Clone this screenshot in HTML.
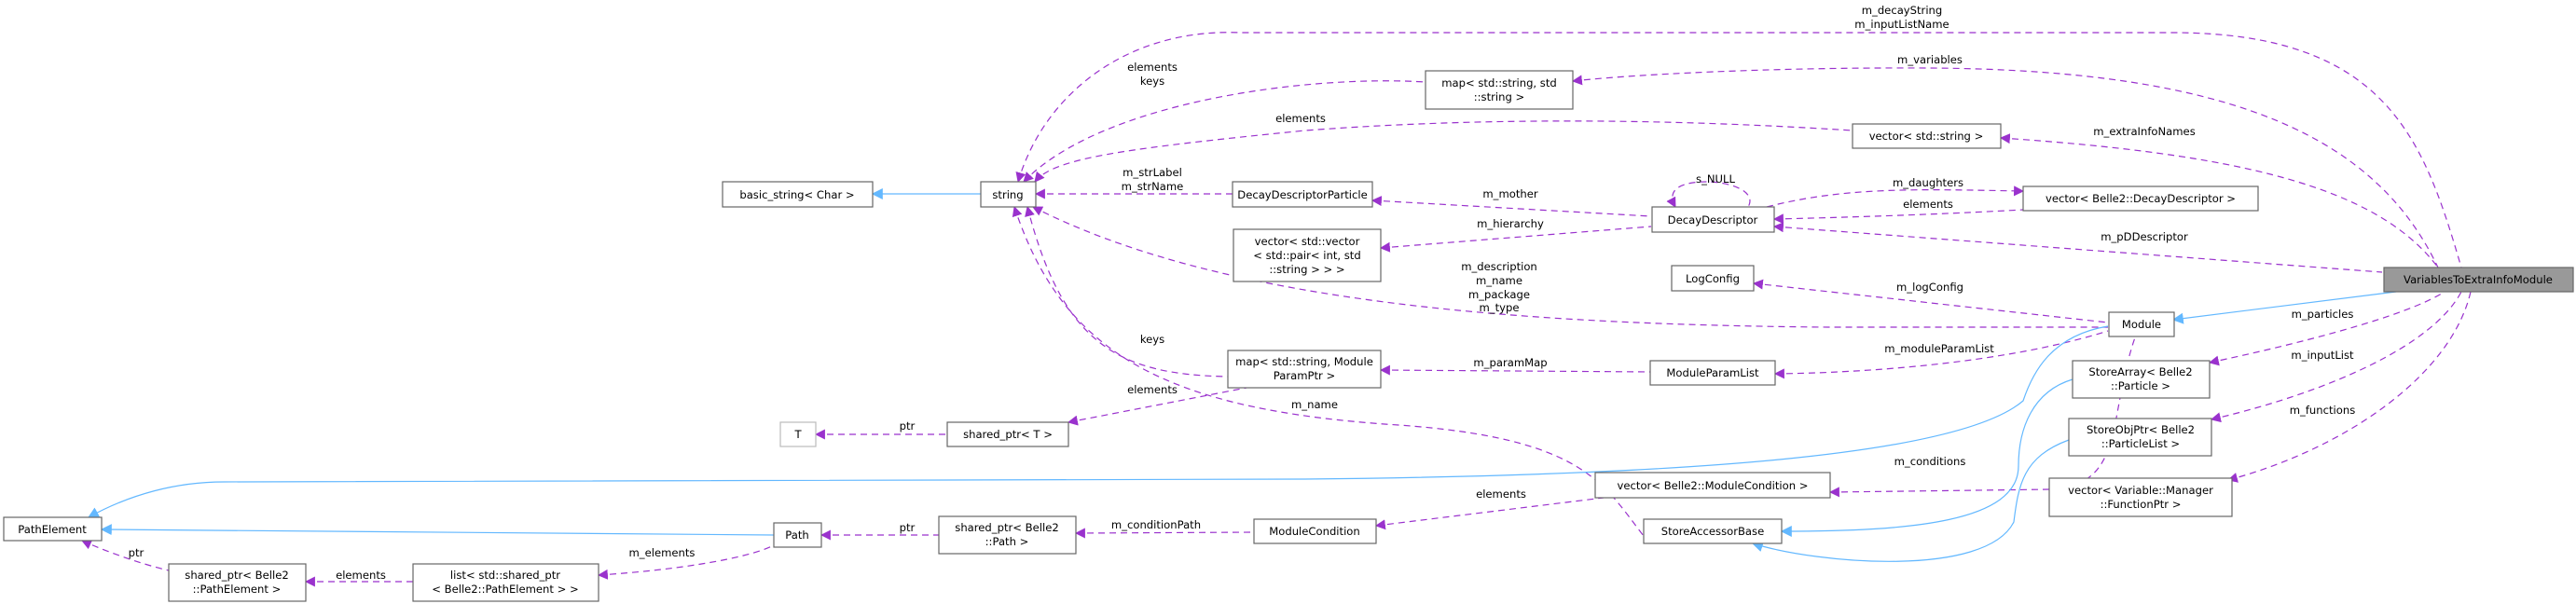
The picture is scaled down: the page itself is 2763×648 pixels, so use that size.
<!DOCTYPE html>
<html><head><meta charset="utf-8"><style>
html,body{margin:0;padding:0;background:#fff;}
svg{display:block;}
text{font-family:"DejaVu Sans","Liberation Sans",sans-serif;font-size:11.6px;fill:#000;}
.n{fill:#fff;stroke:#666;stroke-width:1.2;}
.p{fill:none;stroke:#9a32cd;stroke-width:1.2;stroke-dasharray:7,5;}
.b{fill:none;stroke:#63b8ff;stroke-width:1.2;}
</style></head><body>
<svg width="2763" height="648" viewBox="0 0 2763 648" xmlns="http://www.w3.org/2000/svg">
<defs>
<marker id="ap" viewBox="0 0 10 10" refX="9" refY="5" markerWidth="11" markerHeight="11" orient="auto-start-reverse" markerUnits="userSpaceOnUse"><path d="M0,0 L10,5 L0,10 z" fill="#9a32cd"/></marker>
<marker id="ab" viewBox="0 0 10 10" refX="9" refY="5" markerWidth="12" markerHeight="12" orient="auto-start-reverse" markerUnits="userSpaceOnUse"><path d="M0,0 L10,5 L0,10 z" fill="#63b8ff"/></marker>
</defs>

<g>
<path class="p" marker-start="url(#ap)" d="M1092,195 C1120,100 1210,30 1330,35 L2330,35 C2560,35 2600,150 2640,287"/>
<path class="p" marker-start="url(#ap)" d="M1687,87 C1750,80 1900,72 2070,73 C2400,75 2550,150 2615,287"/>
<path class="p" marker-start="url(#ap)" d="M1098,195 C1180,110 1400,80 1529,88"/>
<path class="p" marker-start="url(#ap)" d="M1110,195 C1130,170 1200,160 1400,140 C1600,125 1800,128 1987,140"/>
<path class="p" marker-start="url(#ap)" d="M2146,148 C2400,165 2550,200 2615,287"/>
<path class="p" marker-start="url(#ap)" d="M1111,208 L1322,208"/>
<path class="p" marker-start="url(#ap)" d="M1472,215 L1771,232"/>
<path class="p" marker-start="url(#ap)" d="M1797,222 C1785,200 1810,195 1830,195 C1855,195 1885,205 1875,222"/>
<path class="p" marker-end="url(#ap)" d="M1895,222 C1980,200 2060,203 2170,205"/>
<path class="p" marker-start="url(#ap)" d="M1903,235 C1990,233 2080,230 2170,225"/>
<path class="p" marker-start="url(#ap)" d="M1903,243 L2555,292"/>
<path class="p" marker-start="url(#ap)" d="M1481,266 L1771,243"/>
<path class="p" marker-start="url(#ap)" d="M1108,222 C1300,320 1600,348 1960,351 L2261,351"/>
<path class="p" marker-start="url(#ap)" d="M1881,304 L2261,346"/>
<path class="p" marker-start="url(#ap)" d="M1904,401 C2000,400 2150,390 2261,355"/>
<path class="p" marker-start="url(#ap)" d="M1481,397 L1770,399"/>
<path class="p" marker-start="url(#ap)" d="M1102,222 C1140,370 1200,402 1317,404"/>
<path class="p" marker-start="url(#ap)" d="M1146,453 L1337,416"/>
<path class="p" marker-start="url(#ap)" d="M875,466 L1016,466"/>
<path class="p" marker-start="url(#ap)" d="M1088,222 C1140,380 1250,440 1500,456 C1700,470 1720,520 1763,575"/>
<path class="p" marker-start="url(#ap)" d="M1963,528 L2200,525 C2280,520 2260,450 2290,362"/>
<path class="p" marker-start="url(#ap)" d="M1476,564 L1720,534"/>
<path class="p" marker-start="url(#ap)" d="M1154,572 L1345,571"/>
<path class="p" marker-start="url(#ap)" d="M881,574 L1007,574"/>
<path class="p" marker-start="url(#ap)" d="M642,617 C720,612 800,600 830,585"/>
<path class="p" marker-start="url(#ap)" d="M328,624 L443,624"/>
<path class="p" marker-start="url(#ap)" d="M88,580 C110,590 150,605 181,612"/>
<path class="p" marker-start="url(#ap)" d="M2370,389 C2460,370 2580,340 2622,313"/>
<path class="p" marker-start="url(#ap)" d="M2372,450 C2500,420 2610,370 2640,313"/>
<path class="p" marker-start="url(#ap)" d="M2390,515 C2520,480 2630,400 2650,313"/>
</g>

<g>
<path class="b" marker-start="url(#ab)" d="M936,208 L1052,208"/>
<path class="b" marker-start="url(#ab)" d="M109,568 L830,574"/>
<path class="b" marker-start="url(#ab)" d="M95,555 C140,530 190,517 240,517 L1400,514 C1800,510 2100,490 2170,430 C2180,400 2200,360 2261,350"/>
<path class="b" marker-start="url(#ab)" d="M2331,343 L2570,313"/>
<path class="b" marker-start="url(#ab)" d="M1911,570 C2050,570 2165,560 2165,500 C2165,460 2180,420 2223,407"/>
<path class="b" marker-start="url(#ab)" d="M1880,583 C1950,605 2130,620 2160,560 C2165,520 2170,490 2219,472"/>
</g>

<g text-anchor="middle">
<text x="2040" y="15">m_decayString</text>
<text x="2040" y="30">m_inputListName</text>
<text x="2070" y="68">m_variables</text>
<text x="1236" y="76">elements</text>
<text x="1236" y="91">keys</text>
<text x="1395" y="131">elements</text>
<text x="2300" y="145">m_extraInfoNames</text>
<text x="1236" y="189">m_strLabel</text>
<text x="1236" y="204">m_strName</text>
<text x="1620" y="212">m_mother</text>
<text x="1840" y="196">s_NULL</text>
<text x="2068" y="200">m_daughters</text>
<text x="2068" y="223">elements</text>
<text x="2300" y="258">m_pDDescriptor</text>
<text x="1620" y="244">m_hierarchy</text>
<text x="1608" y="290">m_description</text>
<text x="1608" y="305">m_name</text>
<text x="1608" y="320">m_package</text>
<text x="1608" y="334">m_type</text>
<text x="2070" y="312">m_logConfig</text>
<text x="2080" y="378">m_moduleParamList</text>
<text x="1620" y="393">m_paramMap</text>
<text x="1236" y="368">keys</text>
<text x="1236" y="422">elements</text>
<text x="973" y="461">ptr</text>
<text x="1410" y="438">m_name</text>
<text x="2070" y="499">m_conditions</text>
<text x="1610" y="534">elements</text>
<text x="1240" y="567">m_conditionPath</text>
<text x="973" y="570">ptr</text>
<text x="710" y="597">m_elements</text>
<text x="387" y="621">elements</text>
<text x="146" y="597">ptr</text>
<text x="2491" y="341">m_particles</text>
<text x="2491" y="385">m_inputList</text>
<text x="2491" y="444">m_functions</text>
</g>

<g text-anchor="middle">
<rect class="n" x="2557" y="287" width="203" height="26" style="fill:#999;stroke:#666"/>
<text x="2658" y="304">VariablesToExtraInfoModule</text>

<rect class="n" x="775" y="195" width="161" height="27"/><text x="855" y="213">basic_string&lt; Char &gt;</text>
<rect class="n" x="1052" y="195" width="59" height="27"/><text x="1081" y="213">string</text>
<rect class="n" x="1529" y="76" width="158" height="41"/><text x="1608" y="93">map&lt; std::string, std</text><text x="1608" y="108">::string &gt;</text>
<rect class="n" x="1987" y="133" width="159" height="26"/><text x="2066" y="150">vector&lt; std::string &gt;</text>
<rect class="n" x="1322" y="195" width="150" height="27"/><text x="1397" y="213">DecayDescriptorParticle</text>
<rect class="n" x="1772" y="222" width="131" height="27"/><text x="1837" y="240">DecayDescriptor</text>
<rect class="n" x="2170" y="200" width="252" height="26"/><text x="2296" y="217">vector&lt; Belle2::DecayDescriptor &gt;</text>
<rect class="n" x="1323" y="246" width="158" height="56"/><text x="1402" y="263">vector&lt; std::vector</text><text x="1402" y="278">&lt; std::pair&lt; int, std</text><text x="1402" y="293">::string &gt; &gt; &gt;</text>
<rect class="n" x="1793" y="285" width="88" height="27"/><text x="1837" y="303">LogConfig</text>
<rect class="n" x="2262" y="335" width="70" height="26"/><text x="2297" y="352">Module</text>
<rect class="n" x="1770" y="387" width="134" height="26"/><text x="1837" y="404">ModuleParamList</text>
<rect class="n" x="1317" y="376" width="164" height="40"/><text x="1399" y="392">map&lt; std::string, Module</text><text x="1399" y="407">ParamPtr &gt;</text>
<rect class="n" x="2223" y="387" width="147" height="40"/><text x="2296" y="403">StoreArray&lt; Belle2</text><text x="2296" y="418">::Particle &gt;</text>
<rect class="n" x="2219" y="449" width="153" height="40"/><text x="2296" y="465">StoreObjPtr&lt; Belle2</text><text x="2296" y="480">::ParticleList &gt;</text>
<rect class="n" x="2198" y="513" width="196" height="41"/><text x="2296" y="530">vector&lt; Variable::Manager</text><text x="2296" y="545">::FunctionPtr &gt;</text>
<rect class="n" x="837" y="453" width="38" height="26" style="stroke:#bbb"/><text x="856" y="470">T</text>
<rect class="n" x="1016" y="453" width="130" height="26"/><text x="1081" y="470">shared_ptr&lt; T &gt;</text>
<rect class="n" x="1711" y="507" width="252" height="27"/><text x="1837" y="525">vector&lt; Belle2::ModuleCondition &gt;</text>
<rect class="n" x="1763" y="557" width="148" height="26"/><text x="1837" y="574">StoreAccessorBase</text>
<rect class="n" x="1345" y="557" width="131" height="26"/><text x="1410" y="574">ModuleCondition</text>
<rect class="n" x="1007" y="554" width="147" height="40"/><text x="1080" y="570">shared_ptr&lt; Belle2</text><text x="1080" y="585">::Path &gt;</text>
<rect class="n" x="830" y="561" width="51" height="26"/><text x="855" y="578">Path</text>
<rect class="n" x="4" y="555" width="105" height="25"/><text x="56" y="572">PathElement</text>
<rect class="n" x="181" y="605" width="147" height="40"/><text x="254" y="621">shared_ptr&lt; Belle2</text><text x="254" y="636">::PathElement &gt;</text>
<rect class="n" x="443" y="605" width="199" height="40"/><text x="542" y="621">list&lt; std::shared_ptr</text><text x="542" y="636">&lt; Belle2::PathElement &gt; &gt;</text>
</g>
</svg>
</body></html>
